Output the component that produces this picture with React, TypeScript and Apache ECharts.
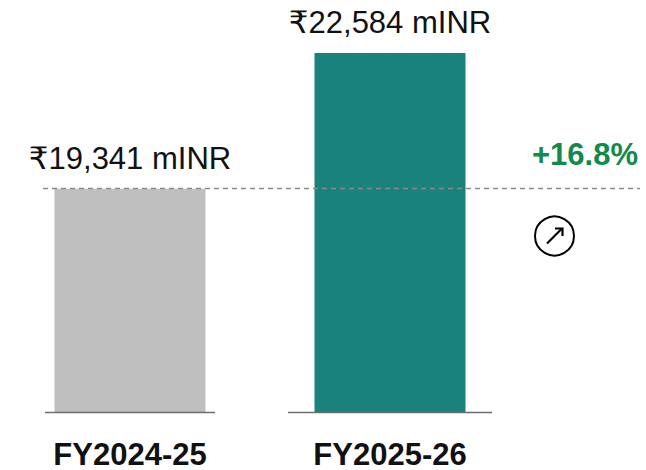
import React, { useEffect, useRef } from "react";
import * as echarts from "echarts";

const categories = ["FY2024-25", "FY2025-26"];
const revenue = [19341, 22584];
const valueLabels = ["₹19,341 mINR", "₹22,584 mINR"];
const growthLabel = "+16.8%";
const barColors = ["#bfbfbf", "#1a827c"];
const axisMin = 14000;

export default function App() {
  const ref = useRef<HTMLDivElement>(null);
  useEffect(() => {
    if (!ref.current) return;
    const chart = echarts.init(ref.current, undefined, { renderer: "svg" });
    const font = "'Liberation Sans', Arial, 'DejaVu Sans', sans-serif";
    chart.setOption({
      animation: false,
      grid: { left: 0, right: 126, top: 53, bottom: 58, containLabel: false },
      xAxis: {
        type: "category",
        data: categories,
        axisLine: { show: false },
        axisTick: { show: false },
        axisLabel: {
          margin: 28,
          fontSize: 31,
          lineHeight: 28,
          fontWeight: "bold",
          color: "#111",
          fontFamily: font,
        },
      },
      yAxis: {
        type: "value",
        min: axisMin,
        max: (v: any) => v.max,
        show: false,
        splitLine: { show: false },
      },
      series: [
        {
          type: "bar",
          barWidth: 151,
          data: revenue.map((v, i) => ({ value: v, itemStyle: { color: barColors[i] } })),
          label: {
            show: true,
            position: "top",
            distance: 15,
            fontSize: 31,
            color: "#111",
            fontFamily: font,
            formatter: (p: any) => valueLabels[p.dataIndex],
          },
        },
      ],
    });

    const p0 = chart.convertToPixel({ gridIndex: 0 }, [0, revenue[0]]) as number[];
    const p1 = chart.convertToPixel({ gridIndex: 0 }, [1, revenue[1]]) as number[];
    const base = chart.convertToPixel({ gridIndex: 0 }, [0, axisMin]) as number[];
    const baseY = base[1] + 0.5;
    const refY = Math.round(p0[1]) - 0.5;

    chart.setOption({
      graphic: [
        {
          type: "line",
          shape: { x1: p0[0] - 85, y1: baseY, x2: p0[0] + 85, y2: baseY },
          style: { stroke: "#6e6e6e", lineWidth: 1.5 },
          z: 10,
        },
        {
          type: "line",
          shape: { x1: p1[0] - 102, y1: baseY, x2: p1[0] + 102, y2: baseY },
          style: { stroke: "#6e6e6e", lineWidth: 1.5 },
          z: 10,
        },
        {
          type: "line",
          shape: { x1: 43, y1: refY, x2: 640, y2: refY },
          style: { stroke: "#8a8a8a", lineWidth: 1.5, lineDash: [5, 4] },
          z: 10,
        },
        {
          type: "text",
          x: 638,
          y: 154,
          style: {
            text: growthLabel,
            fill: "#128a4c",
            font: `bold 31px ${font}`,
            align: "right",
            verticalAlign: "middle",
          },
          z: 10,
        },
        {
          type: "circle",
          shape: { cx: 554.5, cy: 236, r: 19.5 },
          style: { fill: "#fff", stroke: "#000", lineWidth: 2 },
          z: 10,
        },
        {
          type: "line",
          shape: { x1: 547, y1: 243.5, x2: 562, y2: 228.5 },
          style: { stroke: "#000", lineWidth: 2.2 },
          z: 11,
        },
        {
          type: "polyline",
          shape: { points: [[555, 228.5], [562.5, 228.5], [562.5, 236]] },
          style: { stroke: "#000", lineWidth: 2.2, fill: "none" },
          z: 11,
        },
      ],
    });
    return () => chart.dispose();
  }, []);
  return (
    <div
      ref={ref}
      style={{ position: "fixed", left: 0, top: 0, width: 646, height: 470, background: "#fff" }}
    />
  );
}
